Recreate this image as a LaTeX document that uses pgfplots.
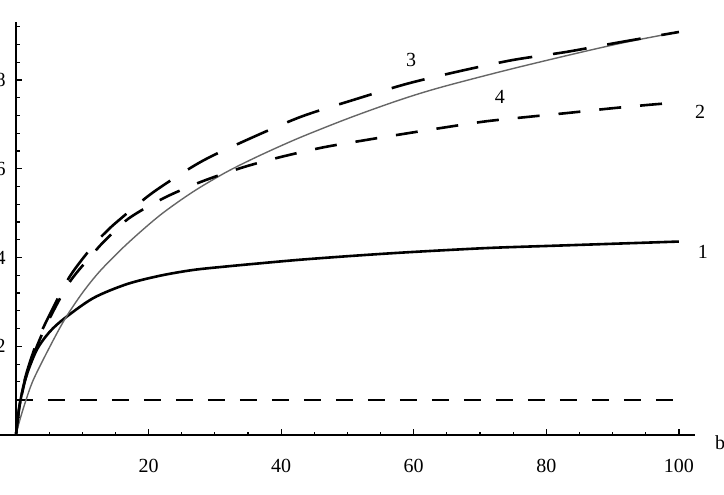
\documentclass[border=0pt]{standalone}
\usepackage{fontspec}
\setmainfont{Liberation Serif}
\usepackage{pgfplots}
\pgfplotsset{compat=1.18}
\begin{document}
\begin{tikzpicture}
\begin{axis}[
  scale only axis, width=347.4pt, height=206.5pt,
  xmin=-2.4, xmax=102.4, ymin=0, ymax=9.3,
  axis lines=middle, axis line style={-, line width=0.7pt},
  xtick={20,40,60,80,100}, ytick={2,4,6,8},
  minor xtick={5,10,...,100}, minor ytick={0.4,0.8,...,9.2},
  tick align=inside, major tick length=3pt, minor tick length=1.8pt,
  tick style={black, line width=0.6pt},
  xticklabel style={anchor=north, inner sep=0pt, yshift=-12pt},
  yticklabel style={anchor=east, inner sep=0pt, xshift=-5pt},
  /pgf/number format/assume math mode=true,
  clip=false,
]
% horizontal dashed line
\addplot[black, line width=1pt, dash pattern=on 8.5pt off 7.5pt] coordinates {(0,0.79) (100,0.79)};
% curve 1
\addplot[black, line width=1.3pt, smooth] coordinates {
(0,0) (0.5,0.62) (1.36,1.24) (3.1,1.91) (5.1,2.33) (7.4,2.64) (11.7,3.09) (16.7,3.40)
(21.7,3.59) (26.7,3.72) (31.8,3.80) (36.8,3.87) (42.8,3.95) (50,4.03) (57,4.10)
(64,4.16) (72,4.22) (82,4.27) (92,4.32) (100,4.36)};
% curve 4 (gray thin)
\addplot[black!60, line width=0.7pt, smooth] coordinates {
(0,0) (0.5,0.3) (1.36,0.72) (2.6,1.24) (5.1,1.99) (7.4,2.62) (10,3.2) (12.7,3.7)
(16.7,4.3) (21.7,4.95) (26.7,5.48) (31.8,5.93) (36.8,6.30) (42.8,6.70) (50.4,7.15)
(57.9,7.55) (64,7.83) (74,8.22) (84,8.58) (92,8.85) (100,9.08)};
% curve 2 (medium dashes)
\addplot[black, line width=1.3pt, smooth, dash pattern=on 11pt off 9.5pt] coordinates {
(0,0) (0.5,0.62) (1.5,1.3) (3.1,1.98) (4.9,2.58) (8.1,3.45) (11.7,4.1) (13.4,4.38)
(17.0,4.88) (22.3,5.34) (28.0,5.71) (34.2,6.03) (40.1,6.27) (46.3,6.48) (52.5,6.64)
(58.7,6.79) (65.1,6.94) (71,7.07) (77.4,7.17) (83.5,7.26) (89.8,7.36) (96.3,7.45) (100,7.49)};
% curve 3 (long dashes)
\addplot[black, line width=1.3pt, smooth, dash pattern=on 17pt off 10.5pt] coordinates {
(0,0) (0.5,0.64) (1.5,1.35) (3.1,2.07) (4.9,2.66) (8.1,3.57) (11.7,4.28) (13.4,4.55)
(15.2,4.80) (20.7,5.47) (27.7,6.14) (33.8,6.58) (42.8,7.16) (50.9,7.55) (58.9,7.91)
(67,8.20) (75,8.45) (83,8.63) (90,8.82) (100,9.08)};
\node at (axis cs:59.6,8.45) {3};
\node at (axis cs:73.0,7.61) {4};
\node at (axis cs:103.2,7.27) {2};
\node at (axis cs:103.6,4.12) {1};
\node at (axis cs:106.2,-0.18) {b};
\coordinate (bl) at (axis cs:-2.41,-1.33);
\coordinate (tr) at (axis cs:106.8,9.80);
\end{axis}
\pgfresetboundingbox
\useasboundingbox (bl) rectangle (tr);
\end{tikzpicture}
\end{document}
